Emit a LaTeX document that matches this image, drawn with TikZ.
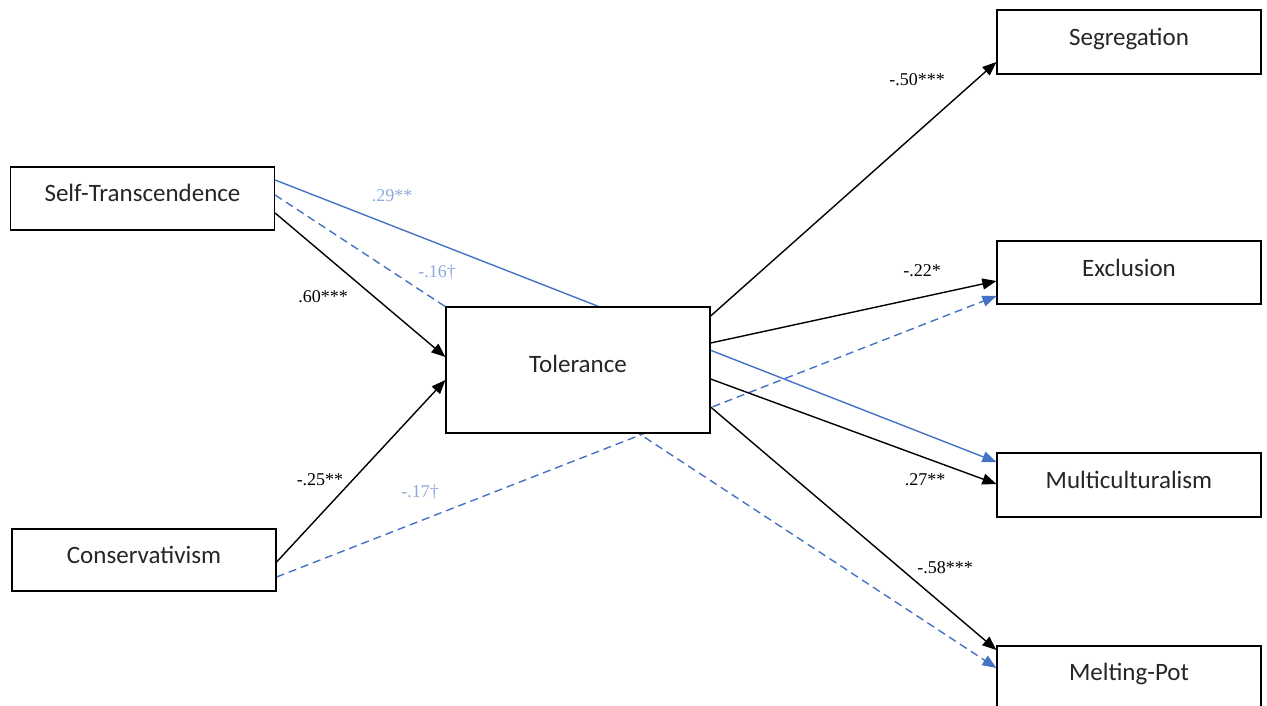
\documentclass[tikz,border=0pt]{standalone}
\usepackage{fontspec}
\setmainfont{Carlito}
\newfontfamily\coef{Liberation Serif}
\usetikzlibrary{arrows.meta,backgrounds}
\definecolor{pathblue}{HTML}{4472C4}
\definecolor{coefblue}{HTML}{8EAADB}
\tikzset{
  var/.style={draw, line width=1.2pt, fill=white, minimum width=264pt, inner sep=0pt,
    font=\fontsize{25}{30}\selectfont, text=black!85},
  conn/.style={line width=1.4pt, -{Triangle[length=14pt,width=11pt]}},
  sig/.style={conn, black},
  sigblue/.style={conn, pathblue},
  nsblue/.style={conn, pathblue, dash pattern=on 8pt off 5pt},
  coefb/.style={font=\coef\fontsize{18}{20}\selectfont, text=black, inner sep=1pt},
  coefl/.style={coefb, text=coefblue},
}
\begin{document}
\begin{tikzpicture}[x=1pt,y=-1pt]
\useasboundingbox (0,0) rectangle (1267,706);
% predictors, mediator and outcomes
\node[var, minimum height=63pt] (st)   at (142.5,198.5) {\raisebox{11pt}{Self-Transcendence}};
\node[var, minimum height=62pt] (cons) at (144,560)     {\raisebox{11pt}{Conservativism}};
\node[var, minimum height=126pt] (tol) at (578,370)     {\raisebox{13pt}{Tolerance}};
\node[var, minimum height=64pt] (seg)  at (1129,42)     {\raisebox{10pt}{Segregation}};
\node[var, minimum height=63pt] (exc)  at (1129,272.5)  {\raisebox{10pt}{Exclusion}};
\node[var, minimum height=64pt] (mul)  at (1129,485)    {\raisebox{10pt}{Multiculturalism}};
\node[var, minimum height=63pt] (mp)   at (1129,677.5)  {\raisebox{11pt}{Melting-Pot}};

\begin{scope}[on background layer]
% direct paths (drawn behind the mediator box)
\draw[sigblue] ([yshift=18.5pt]st.east) -- ([yshift=23pt]mul.west);
\draw[nsblue]  ([yshift=3.5pt]st.east)  -- ([yshift=9.5pt]mp.west);
\draw[nsblue]  ([yshift=-17pt]cons.east) -- ([yshift=-23.5pt]exc.west);
% paths into the mediator
\draw[sig] ([yshift=-14.5pt]st.east) -- ([yshift=13pt]tol.west);
\draw[sig] ([yshift=-2pt]cons.east)  -- ([yshift=-10pt]tol.west);
% paths out of the mediator
\draw[sig] ([yshift=54pt]tol.east)  -- ([yshift=-20pt]seg.west);
\draw[sig] ([yshift=27pt]tol.east)  -- ([yshift=-8.5pt]exc.west);
\draw[sig] ([yshift=-9pt]tol.east)  -- ([yshift=1pt]mul.west);
\draw[sig] ([yshift=-37pt]tol.east) -- ([yshift=27.5pt]mp.west);
\end{scope}

% path coefficients
\node[coefl] (c1) at (392,196) {.29**};
\node[coefl] (c2) at (437,272) {-.16\textdagger};
\node[coefb] (c3) at (323,297) {.60***};
\node[coefb] (c4) at (320,480) {-.25**};
\node[coefl] (c5) at (420,492) {-.17\textdagger};
\node[coefb] (c6) at (917,80)  {-.50***};
\node[coefb] (c7) at (922,271) {-.22*};
\node[coefb] (c8) at (925,480) {.27**};
\node[coefb] (c9) at (945,568) {-.58***};
\end{tikzpicture}
\end{document}
